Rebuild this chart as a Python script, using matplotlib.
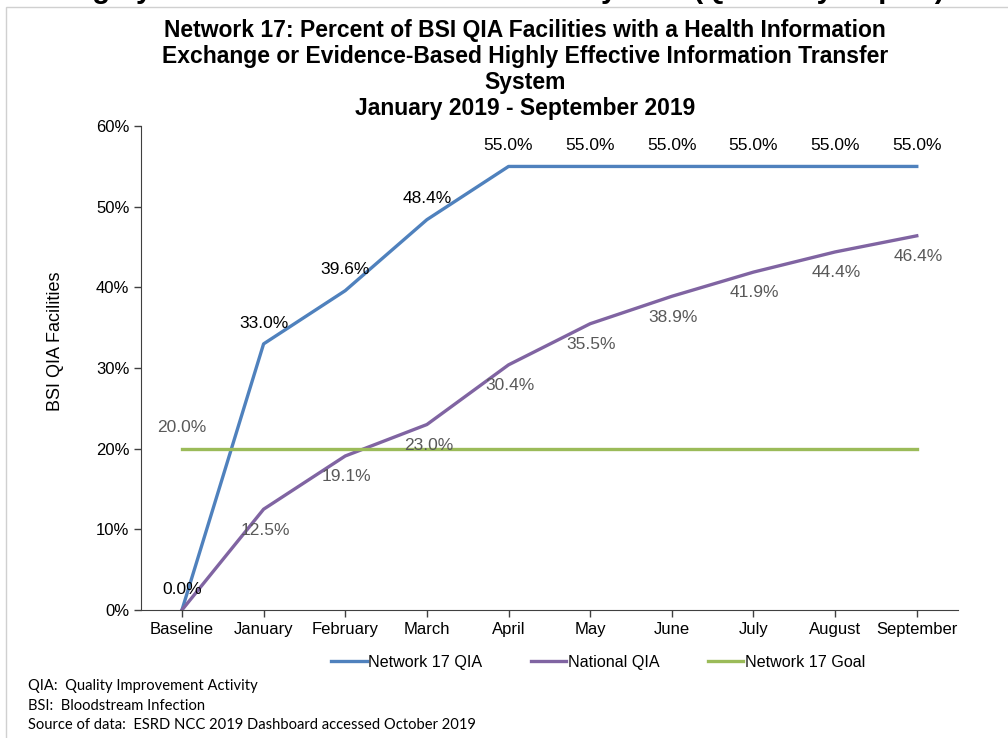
import matplotlib.pyplot as plt
from matplotlib.patches import Rectangle

months = ['Baseline', 'January', 'February', 'March', 'April', 'May',
          'June', 'July', 'August', 'September']
network17 = [0.0, 33.0, 39.6, 48.4, 55.0, 55.0, 55.0, 55.0, 55.0, 55.0]
national = [0.0, 12.5, 19.1, 23.0, 30.4, 35.5, 38.9, 41.9, 44.4, 46.4]
goal = [20.0] * 10
yticks = [0, 10, 20, 30, 40, 50, 60]

plt.rcParams['font.family'] = ['Liberation Sans', 'DejaVu Sans']

fig = plt.figure(figsize=(10.08, 7.38), dpi=100)
ax = fig.add_axes([0.14, 0.1734, 0.81, 0.6557])

# frame around the chart
fig.patches.append(Rectangle((0.006, -0.01), 1.2, 1.0, transform=fig.transFigure,
                             fill=False, edgecolor='#d0d0d0', linewidth=1))
# heading of the slide above, cut off by the crop
fig.text(0.5, 1.014, 'Highly Effective Information Transfer System (Quarterly Report)',
         ha='center', va='center', fontsize=21, fontweight='bold')

x = range(len(months))
ax.plot(x, network17, color='#4F81BD', lw=2.4, label='Network 17 QIA')
ax.plot(x, national, color='#8064A2', lw=2.4, label='National QIA')
ax.plot(x, goal, color='#9BBB59', lw=2.4, label='Network 17 Goal')

for i, v in enumerate(network17):
    ax.annotate(f'{v:.1f}%', (i, v), xytext=(0, 15), textcoords='offset points',
                ha='center', va='center', fontsize=12.5, color='black')
for i, v in enumerate(national):
    if i == 0:
        continue
    ax.annotate(f'{v:.1f}%', (i, v), xytext=(1, -15), textcoords='offset points',
                ha='center', va='center', fontsize=12.5, color='#595959')
ax.annotate(f'{goal[0]:.1f}%', (0, goal[0]), xytext=(0, 15), textcoords='offset points',
            ha='center', va='center', fontsize=12.5, color='#595959')

ax.set_xlim(-0.5, 9.5)
ax.set_ylim(0, 60)
ax.set_xticks(list(x))
ax.set_xticklabels(months, fontsize=12)
ax.set_yticks(yticks)
ax.set_yticklabels([f'{t}%' for t in yticks], fontsize=12)
ax.tick_params(direction='out', length=5, color='#404040', width=1)
ax.spines['top'].set_visible(False)
ax.spines['right'].set_visible(False)
ax.spines['left'].set_color('#404040')
ax.spines['bottom'].set_color('#404040')
ax.set_ylabel('BSI QIA Facilities', fontsize=13)
ax.yaxis.set_label_coords(-0.095, 0.556)

ax.set_title('Network 17: Percent of BSI QIA Facilities with a Health Information\n'
             'Exchange or Evidence-Based Highly Effective Information Transfer\n'
             'System\nJanuary 2019 - September 2019',
             fontsize=16.5, fontweight='bold', linespacing=1.16, pad=8, x=0.47)

ax.legend(loc='upper center', bbox_to_anchor=(0.56, -0.063), ncol=3, frameon=False,
          fontsize=11.6, handlelength=2.2, handletextpad=0.1, columnspacing=3)

notes = ['QIA:  Quality Improvement Activity', 'BSI:  Bloodstream Infection',
         'Source of data:  ESRD NCC 2019 Dashboard accessed October 2019']
for k, n in enumerate(notes):
    fig.text(0.028, 0.07 - k * 0.026, n, fontsize=10.6, family=['Lato', 'DejaVu Sans'],
             va='center')

fig.savefig('out.png', dpi=100)
